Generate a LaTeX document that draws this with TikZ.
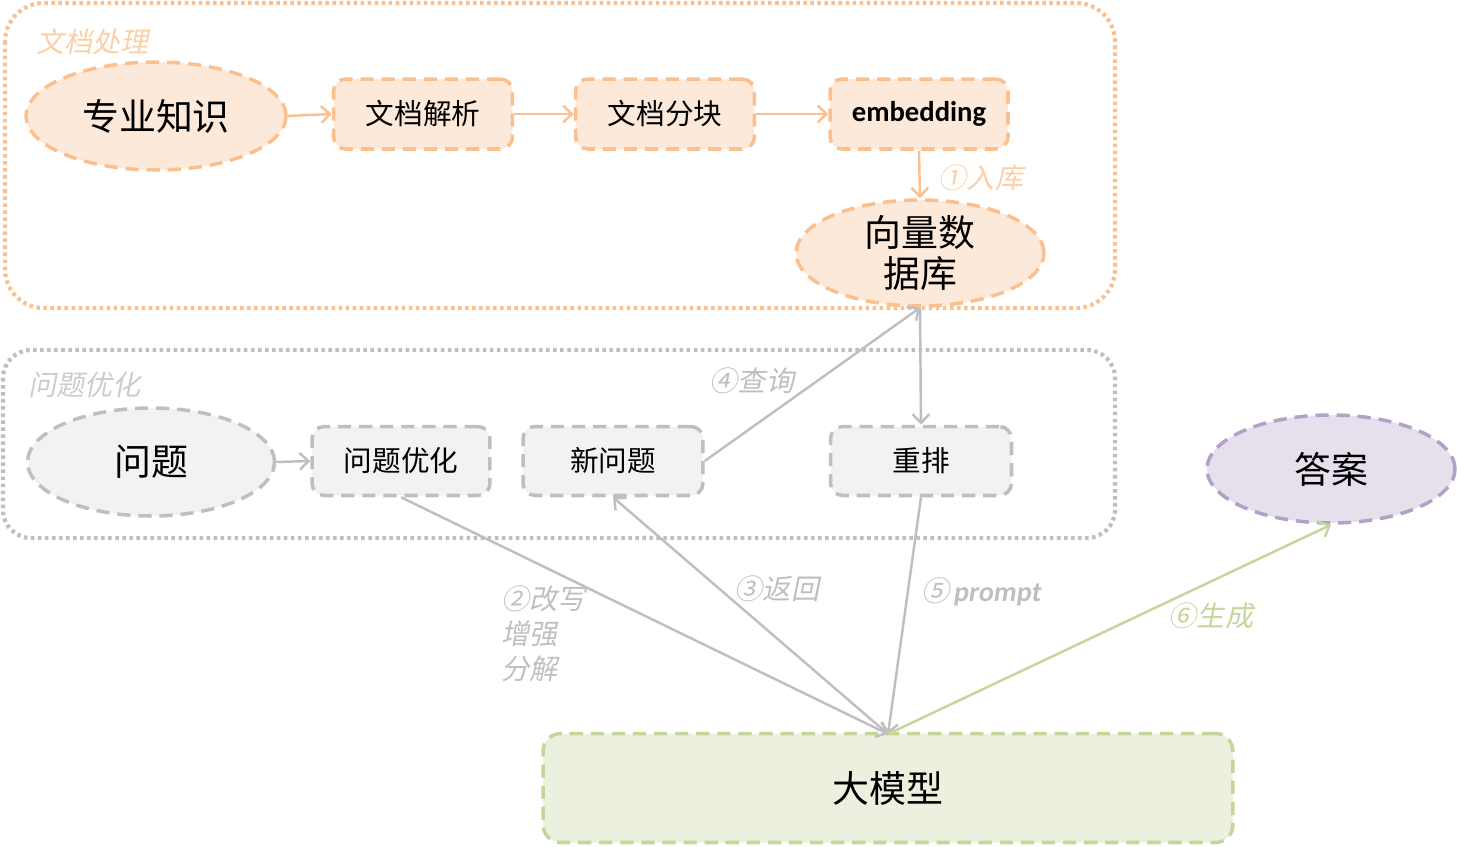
\documentclass[tikz,border=0pt]{standalone}
\usepackage{fontspec}
\setmainfont{Noto Sans CJK SC}
\newfontfamily\cjkit[FakeSlant=0.2]{Noto Sans CJK SC}
\newfontfamily\embfont{Carlito}
\newfontfamily\promptfont[FakeSlant=0.15]{Carlito}
\usetikzlibrary{shapes.geometric,arrows.meta}
\definecolor{orS}{HTML}{FAC090}
\definecolor{orF}{HTML}{FDE9D9}
\definecolor{orT}{HTML}{FBCFA8}
\definecolor{grS}{HTML}{BFBFBF}
\definecolor{grF}{HTML}{F2F2F2}
\definecolor{puS}{HTML}{B3A2C7}
\definecolor{puF}{HTML}{E5E0EC}
\definecolor{gnS}{HTML}{C3D69B}
\definecolor{gnF}{HTML}{EBF1DE}
\tikzset{
  dsh/.style={line width=2pt, dash pattern=on 7.5pt off 4.5pt},
  ell/.style={ellipse, dsh, inner sep=0pt},
  rbox/.style={rectangle, rounded corners=7pt, dsh, inner sep=0pt},
  orN/.style={draw=orS, fill=orF},
  grN/.style={draw=grS, fill=grF},
  grp/.style={line width=2.4pt, dash pattern=on 2pt off 2pt, rounded corners=22pt},
  arr/.style={line width=1.4pt, -{Straight Barb[length=5pt,width=9.5pt,line width=1.4pt]}},
  lab/.style={font=\cjkit\fontsize{16}{20}\selectfont, inner sep=0pt},
}
\begin{document}
\begin{tikzpicture}[x=0.02cm,y=-0.02cm]
\useasboundingbox (0,0) rectangle (1457,846);
% groups
\draw[grp, draw=orS] (5,3) rectangle (1115,308);
\draw[grp, draw=grS, rounded corners=16pt] (3,350) rectangle (1115,538);
\node[lab, text=orT, anchor=west] (g1) at (36,42) {文档处理};
\node[lab, text=grS!80, anchor=west] (g2) at (28,385) {问题优化};
% nodes
\node[ell, orN, minimum width=5.2cm, minimum height=2.16cm, font=\fontsize{21}{24}\selectfont] (zs) at (156,116) {专业知识};
\node[rbox, orN, minimum width=3.58cm, minimum height=1.4cm, font=\fontsize{16.3}{20}\selectfont] (jx) at (423,114) {文档解析};
\node[rbox, orN, minimum width=3.58cm, minimum height=1.4cm, font=\fontsize{16.3}{20}\selectfont] (fk) at (665,114) {文档分块};
\node[rbox, orN, minimum width=3.56cm, minimum height=1.4cm, font=\embfont\bfseries\fontsize{16.3}{20}\selectfont] (emb) at (919,114) {embedding};
\node[ell, orN, minimum width=4.96cm, minimum height=2.12cm, align=center, font=\fontsize{21}{23}\selectfont] (db) at (920,253) {向量数\\据库};
\node[ell, grN, minimum width=4.94cm, minimum height=2.16cm, font=\fontsize{21}{24}\selectfont] (wt) at (151,462) {问题};
\node[rbox, grN, minimum width=3.56cm, minimum height=1.38cm, font=\fontsize{16.3}{20}\selectfont] (yh) at (401,461) {问题优化};
\node[rbox, grN, minimum width=3.6cm, minimum height=1.38cm, font=\fontsize{16.3}{20}\selectfont] (xw) at (613,461) {新问题};
\node[rbox, grN, minimum width=3.62cm, minimum height=1.38cm, font=\fontsize{16.3}{20}\selectfont] (cp) at (921,461) {重排};
\node[ell, draw=puS, fill=puF, minimum width=4.96cm, minimum height=2.16cm, font=\fontsize{21}{24}\selectfont] (da) at (1331,469) {答案};
\node[rbox, draw=gnS, fill=gnF, rounded corners=10pt, minimum width=13.8cm, minimum height=2.18cm, font=\fontsize{21}{24}\selectfont] (llm) at (888,788) {大模型};
\coordinate (llmt) at (888,734);
% connectors
\draw[arr, orS] (zs.east) -- (jx.west);
\draw[arr, orS] (jx.east) -- (fk.west);
\draw[arr, orS] (fk.east) -- (emb.west);
\draw[arr, orS] (emb.south) -- (db.north);
\draw[arr, grS] (wt.east) -- (yh.west);
\draw[arr, grS] (xw.east) -- (db.south);
\draw[arr, grS] (db.south) -- (cp.north);
\draw[arr, grS] (yh.south) -- (llmt);
\draw[arr, grS] (llmt) -- (xw.south);
\draw[arr, grS] (cp.south) -- (llmt);
\draw[arr, gnS] (llmt) -- (da.south);
% labels
\node[lab, text=orT] (l1) at (981,178) {①入库};
\node[lab, text=grS] (l4) at (752,381) {④查询};
\node[lab, text=grS, anchor=north west, align=left] (l2) at (501,585) {②改写\\增强\\分解};
\node[lab, text=grS] (l3) at (777,589) {③返回};
\node[lab, text=grS] (l5) at (981,592) {⑤\hspace{2pt}{\promptfont\bfseries prompt}};
\node[lab, text=gnS] (l6) at (1211,616) {⑥生成};
\end{tikzpicture}
\end{document}
